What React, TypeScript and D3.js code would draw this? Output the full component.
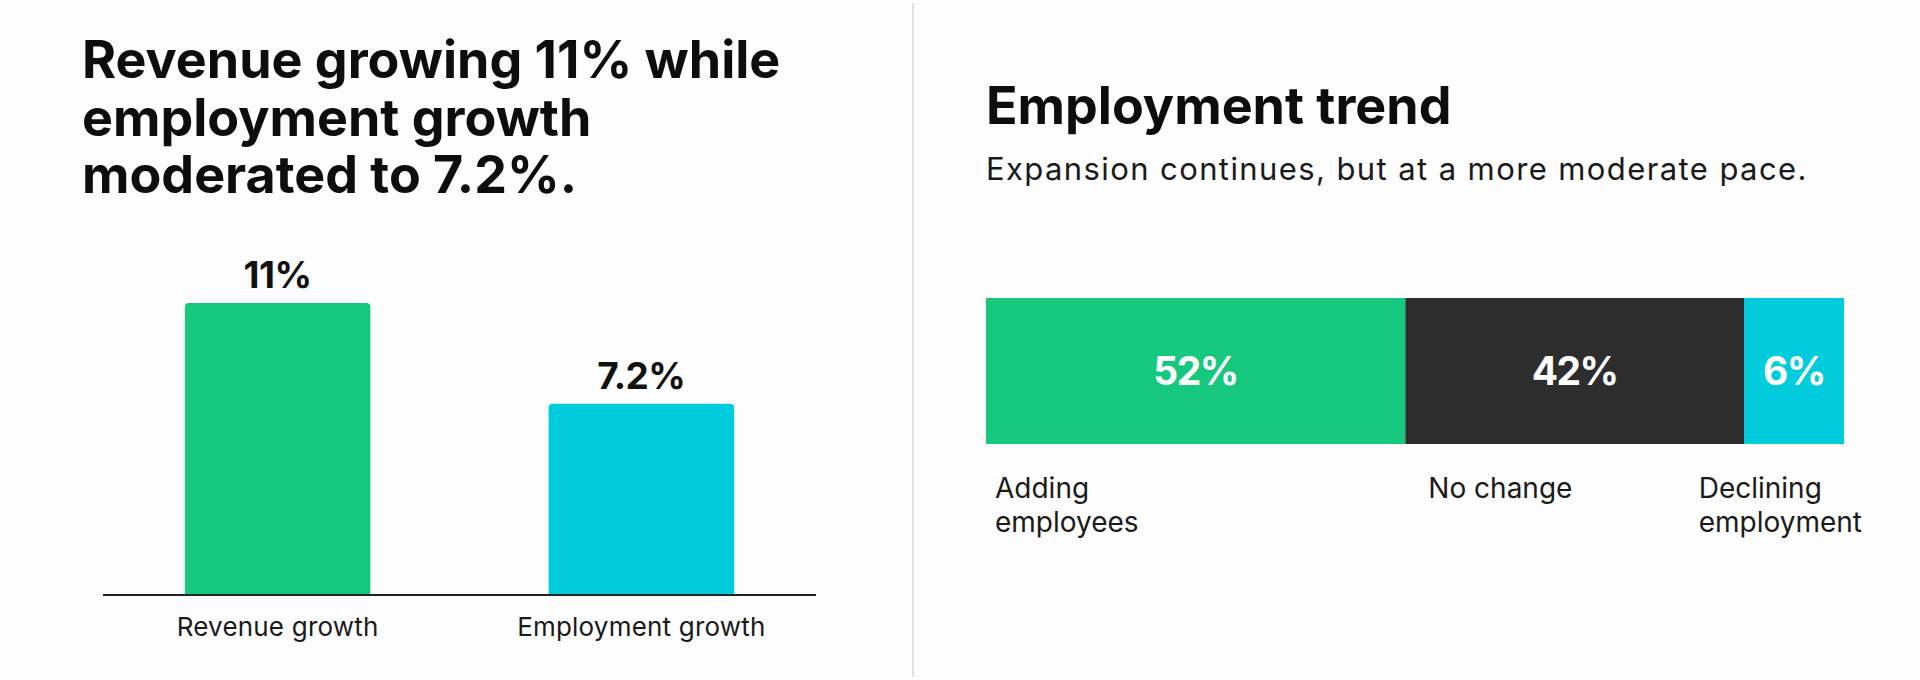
import React, { useEffect, useRef } from 'react';
import * as d3 from 'd3';

// left panel: revenue vs employment growth
const titleLines = ['Revenue growing 11% while', 'employment growth', 'moderated to 7.2%.'];
const growthCategories = ['Revenue growth', 'Employment growth'];
const growthValues = [11, 7.2];
const growthLabels = ['11%', '7.2%'];
const growthColors = ['#15C87E', '#00CCDD'];

// right panel: employment trend
const trendTitle = 'Employment trend';
const trendSubtitle = 'Expansion continues, but at a more moderate pace.';
const trendValues = [52, 42, 6];
const trendLabels = ['52%', '42%', '6%'];
const trendCategories = [['Adding', 'employees'], ['No change'], ['Declining', 'employment']];
const trendColors = ['#15C87E', '#2D2D2D', '#00CCDD'];

const FONT = 'Inter, "Noto Sans", sans-serif';

function topRounded(x: number, y: number, w: number, h: number, r: number) {
  return `M${x},${y + h}V${y + r}Q${x},${y} ${x + r},${y}H${x + w - r}Q${x + w},${y} ${x + w},${y + r}V${y + h}Z`;
}

const App: React.FC = () => {
  const ref = useRef<SVGSVGElement | null>(null);

  useEffect(() => {
    if (!ref.current) return;
    const width = 1920;
    const height = 680;
    const svg = d3.select(ref.current);
    svg.selectAll('*').remove();
    svg.attr('width', width).attr('height', height);

    svg.append('rect').attr('width', width).attr('height', height).attr('fill', '#fdfdfd');

    // divider between the two panels
    svg.append('line')
      .attr('x1', 913).attr('x2', 913)
      .attr('y1', 3).attr('y2', 677)
      .attr('stroke', '#e2e2e2')
      .attr('stroke-width', 2);

    // ---- left panel ----
    const title = svg.append('g').style('font-family', FONT);
    titleLines.forEach((line, i) => {
      title.append('text')
        .attr('x', 82)
        .attr('y', 78 + i * 57.5)
        .attr('fill', '#0d0d0d')
        .style('font-size', '52px')
        .style('font-weight', 700)
        .style('letter-spacing', '0px')
        .text(line);
    });

    const base = 595;
    const x = d3.scaleBand<string>()
      .domain(growthCategories)
      .range([103, 816])
      .paddingInner(0.49)
      .paddingOuter(0.225);
    const y = d3.scaleLinear()
      .domain([0, d3.max(growthValues) as number])
      .range([base, 303]);

    const bars = svg.append('g');
    growthCategories.forEach((c, i) => {
      const bx = x(c) as number;
      const by = y(growthValues[i]);
      bars.append('path')
        .attr('d', topRounded(bx, by, x.bandwidth(), base - by, 4))
        .attr('fill', growthColors[i]);

      bars.append('text')
        .attr('x', bx + x.bandwidth() / 2)
        .attr('y', by - 15)
        .attr('text-anchor', 'middle')
        .attr('fill', '#111')
        .style('font-family', FONT)
        .style('font-size', '37px')
        .style('font-weight', 700)
        .style('letter-spacing', '-0.5px')
        .text(growthLabels[i]);

      bars.append('text')
        .attr('x', bx + x.bandwidth() / 2)
        .attr('y', 636)
        .attr('text-anchor', 'middle')
        .attr('fill', '#1a1a1a')
        .style('font-family', FONT)
        .style('font-size', '26px')
        .style('letter-spacing', '0.2px')
        .text(c);
    });

    svg.append('line')
      .attr('x1', 103).attr('x2', 816)
      .attr('y1', base).attr('y2', base)
      .attr('stroke', '#222')
      .attr('stroke-width', 2);

    // ---- right panel ----
    svg.append('text')
      .attr('x', 986)
      .attr('y', 124)
      .attr('fill', '#0d0d0d')
      .style('font-family', FONT)
      .style('font-size', '52px')
      .style('font-weight', 700)
      .style('letter-spacing', '0px')
      .text(trendTitle);

    svg.append('text')
      .attr('x', 986)
      .attr('y', 180)
      .attr('fill', '#1a1a1a')
      .style('font-family', FONT)
      .style('font-size', '31px')
      .style('letter-spacing', '1.4px')
      .text(trendSubtitle);

    const barX0 = 986;
    const barX1 = 1844;
    const barY = 298;
    const barH = 146;
    const minSeg = 100; // small shares get a minimum width so the label fits
    const total = d3.sum(trendValues);
    const barW = barX1 - barX0;
    const small = trendValues.map((v) => (v / total) * barW < minSeg);
    const nSmall = small.filter(Boolean).length;
    const xs = d3.scaleLinear()
      .domain([0, d3.sum(trendValues.filter((_, i) => !small[i]))])
      .range([0, barW - nSmall * minSeg]);
    const widths = trendValues.map((v, i) => (small[i] ? minSeg : xs(v)));
    const starts = widths.map((_, i) => barX0 + d3.sum(widths.slice(0, i)));

    const seg = svg.append('g');
    trendValues.forEach((_, i) => {
      seg.append('rect')
        .attr('x', starts[i])
        .attr('y', barY)
        .attr('width', widths[i])
        .attr('height', barH)
        .attr('fill', trendColors[i]);

      seg.append('text')
        .attr('x', starts[i] + widths[i] / 2)
        .attr('y', barY + barH / 2)
        .attr('dy', '0.35em')
        .attr('text-anchor', 'middle')
        .attr('fill', '#fff')
        .style('font-family', FONT)
        .style('font-size', '39px')
        .style('font-weight', 700)
        .style('letter-spacing', '-1.5px')
        .text(trendLabels[i]);

      const last = i === trendValues.length - 1;
      const lbl = seg.append('text')
        .attr('fill', '#1a1a1a')
        .style('font-family', FONT)
        .style('font-size', '28px')
        .style('letter-spacing', '0px');
      trendCategories[i].forEach((line, j) => {
        lbl.append('tspan').attr('x', 0).attr('y', 498 + j * 34).text(line);
      });
      let lx = starts[i] + (i === 0 ? 9 : 23);
      if (last) {
        const maxW = d3.max(lbl.selectAll<SVGTSpanElement, unknown>('tspan').nodes(), (n) => n.getComputedTextLength()) || 0;
        lx = barX1 + 18 - maxW;
      }
      lbl.selectAll('tspan').attr('x', lx);
    });
  }, []);

  return <svg ref={ref} style={{ position: 'absolute', left: 0, top: 0, display: 'block' }}></svg>;
};

export default App;
